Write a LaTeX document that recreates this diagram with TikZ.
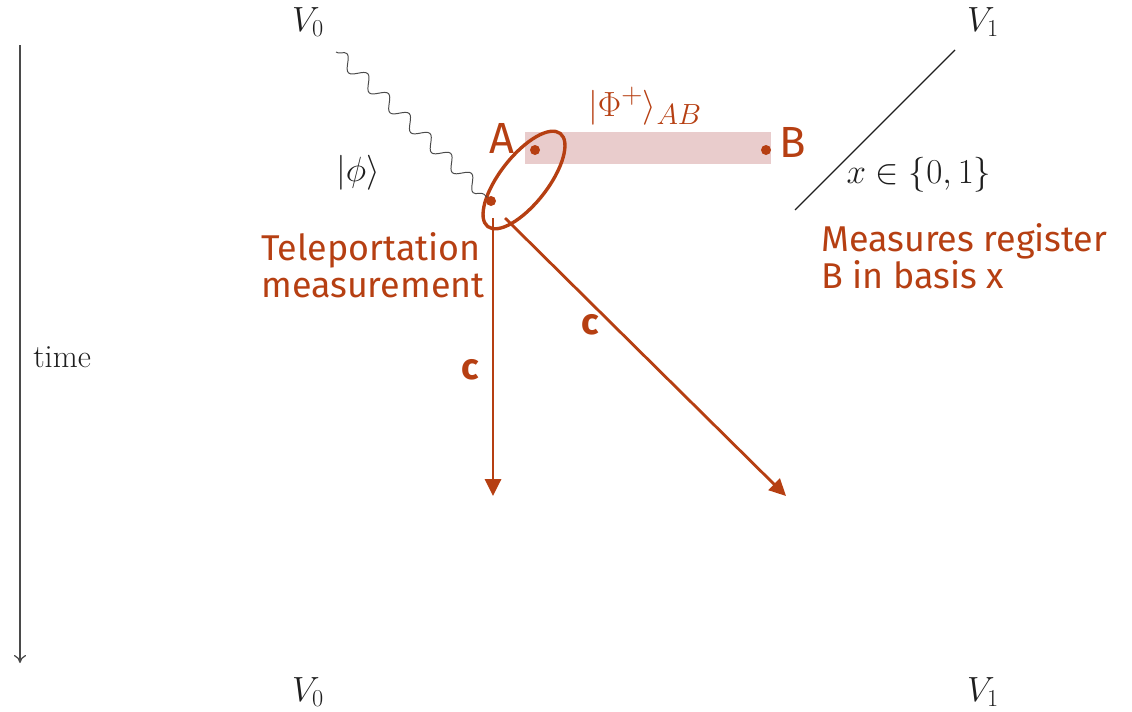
\documentclass[tikz,border=0pt]{standalone}
\usepackage{fontspec}
\newfontfamily\handfont{Fira Sans}
\usetikzlibrary{arrows.meta,decorations.pathmorphing,positioning,shapes.geometric}
\definecolor{Ink}{HTML}{1E1E1E}
\definecolor{Slate}{HTML}{4A4A4A}
\definecolor{Rust}{HTML}{B63F12}
\definecolor{Blush}{HTML}{E9CCCC}
\tikzset{
  tex/.style={font=\fontsize{23}{27}\selectfont, text=Ink, inner sep=0pt},
  note/.style={font=\handfont\fontsize{25.5}{26}\selectfont, text=Rust,
    align=left, inner sep=0pt},
  letter/.style={font=\handfont\fontsize{31}{33}\selectfont, text=Rust, inner sep=0pt},
  redpoint/.style={circle, fill=Rust, inner sep=0pt, minimum size=0.25cm},
  classical/.style={-{Triangle[length=0.42cm,width=0.4cm]}, draw=Rust, line width=2pt},
  quantum/.style={draw=Slate, line width=0.7pt, decorate,
    decoration={snake, amplitude=0.16cm, segment length=0.72cm}},
  timeflow/.style={-{To[length=2mm,width=3mm]}, draw=Slate, line width=0.9pt}
}
\begin{document}
\begin{tikzpicture}[x=0.025cm,y=-0.025cm]
  \useasboundingbox (0,0) rectangle (1132,711);
  % time axis
  \coordinate (t0) at (20,45);
  \coordinate (t1) at (20,663);
  \draw[timeflow] (t0) -- (t1);
  \node[tex,anchor=west] (time) at (33,357) {time};
  % parties
  \node[tex] (v0top) at (308,22) {$V_0$};
  \node[tex] (v1top) at (983,22) {$V_1$};
  \node[tex] (v0bot) at (308,692) {$V_0$};
  \node[tex] (v1bot) at (983,692) {$V_1$};
  % shared pair
  \node[fill=Blush,minimum width=6.15cm,minimum height=0.78cm,inner sep=0pt] (pair) at (648,148) {};
  \node[redpoint] (a) at (535,150) {};
  \node[redpoint] (b) at (766,150) {};
  \node[redpoint] (q) at (491,201) {};
  \node[letter] (alab) at (502,138) {A};
  \node[letter] (blab) at (793,142) {B};
  \node[text=Rust,font=\fontsize{28}{30}\selectfont] (bell) at (645,106) {$|\Phi^+\rangle_{AB}$};
  \node[draw=Rust,line width=2.4pt,ellipse,rotate=52,
    minimum width=2.95cm,minimum height=1.2cm] (meas) at (524,180) {};
  % incoming state
  \coordinate (win) at (336,52);
  \draw[quantum] (win) -- (q);
  \node[tex] (phi) at (358,173) {$|\phi\rangle$};
  % V1 measurement
  \coordinate (m0) at (795,210);
  \coordinate (m1) at (955,50);
  \draw[Ink,line width=0.9pt] (m0) -- (m1);
  \node[tex] (basis) at (919,175) {$x\in\{0,1\}$};
  % classical messages
  \coordinate (c0) at (493,218);
  \coordinate (c1) at (493,496);
  \coordinate (d0) at (505,218);
  \coordinate (d1) at (786,496);
  \draw[classical] (c0) -- (c1);
  \draw[classical] (d0) -- (d1);
  \node[note,font=\handfont\bfseries\fontsize{26}{28}\selectfont] (cv) at (470,370) {c};
  \node[note,font=\handfont\bfseries\fontsize{26}{28}\selectfont] (cd) at (590,325) {c};
  % annotations
  \node[note,anchor=west] (telep) at (261,265) {Teleportation\\measurement};
  \node[note,anchor=west] (regb) at (821,256) {Measures register\\B in basis x};
\end{tikzpicture}
\end{document}
